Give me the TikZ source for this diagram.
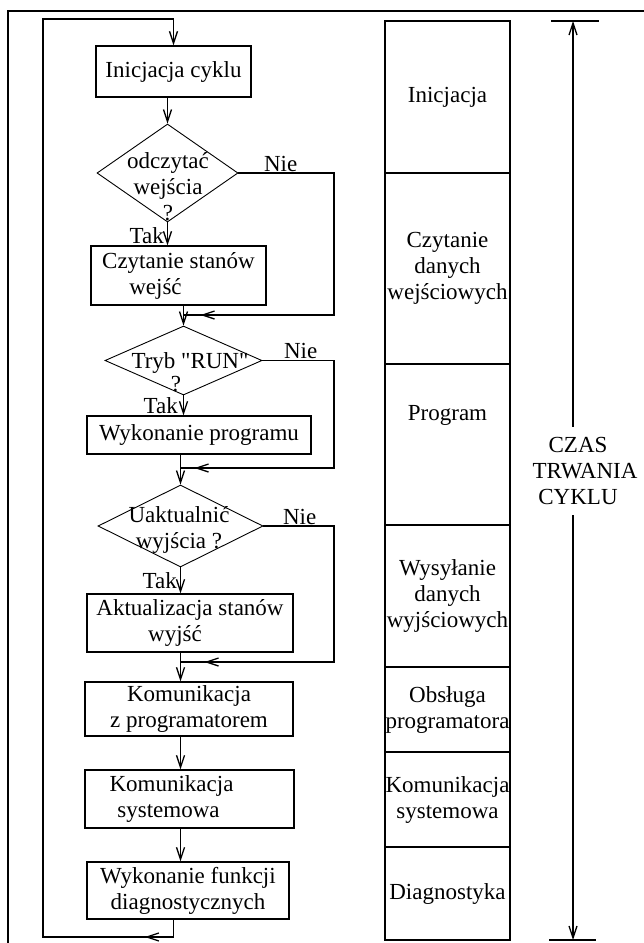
\documentclass[tikz,border=0pt]{standalone}
\usepackage{fontspec}
\setmainfont{Liberation Serif}
\usetikzlibrary{shapes.geometric,arrows.meta,positioning,decorations.markings}

\begin{document}
\begin{tikzpicture}[x=1pt,y=-1pt,line width=1.3pt,
    every node/.style={font=\fontsize{23}{26}\selectfont},
    >={Straight Barb[length=12pt,width=8pt]},
    box/.style={draw,align=center,inner sep=2pt},
    cond/.style={draw,diamond,line width=0.9pt,inner sep=0pt},
    txt/.style={align=center,inner sep=1pt},
    seg/.style={draw,minimum width=125pt,align=center,inner sep=0pt,outer sep=0pt},
    retn/.style={postaction={decorate},
      decoration={markings,mark=at position #1 with {\arrow{>}}}}
  ]
  \useasboundingbox (0,0) rectangle (644,943);

  % frame
  \draw (8,943) -- (8,11) -- (644,11);

  % flowchart of one cycle
  \node[box,minimum width=155pt,minimum height=51pt] (b1) at (173.5,71.5) {Inicjacja cyklu};
  \node[cond,minimum width=141pt,minimum height=98pt] (d1) at (167.5,173) {};
  \node[txt] (q1) at (168,187) {odczytać\\wejścia\\?};
  \node[box,minimum width=175pt,minimum height=59pt] (b2) at (178.5,275.5) {Czytanie stanów\\wejść\hspace*{46pt}};
  \node[cond,minimum width=157pt,minimum height=69pt] (d2) at (183.5,360.5) {};
  \node[txt,font=\fontsize{23}{23}\selectfont] (q2) at (190,372) {Tryb \textquotedbl RUN\textquotedbl\\?\hspace*{28pt}};
  \node[box,minimum width=224pt,minimum height=38pt] (b3) at (199,435) {Wykonanie programu};
  \node[cond,minimum width=165pt,minimum height=82pt] (d3) at (180.5,526) {};
  \node[txt] (q3) at (179,530) {Uaktualnić\\wyjścia ?};
  \node[box,minimum width=206pt,minimum height=58pt] (b4) at (190,623) {Aktualizacja stanów\\wyjść\hspace*{30pt}};
  \node[box,minimum width=208pt,minimum height=54pt] (b5) at (189,709) {Komunikacja\\z programatorem};
  \node[box,minimum width=209pt,minimum height=58pt] (b6) at (189.5,799) {Komunikacja\hspace*{36pt}\\systemowa\hspace*{42pt}};
  \node[box,minimum width=202pt,minimum height=57pt] (b7) at (188,890.5) {Wykonanie funkcji\\diagnostycznych};

  % Nie / Tak
  \node[txt,anchor=south west,xshift=24pt] (n1) at (d1.east) {Nie};
  \node[txt,anchor=south west,xshift=20pt] (n2) at (d2.east) {Nie};
  \node[txt,anchor=south west,xshift=18pt] (n3) at (d3.east) {Nie};
  \node[txt,anchor=south east,xshift=-2pt] (t1) at (d1.south |- b2.north) {Tak};
  \node[txt,anchor=south east,xshift=-4pt] (t2) at (d2.south |- b3.north) {Tak};
  \node[txt,anchor=south east,xshift=-2pt,yshift=3pt] (t3) at (d3.south |- b4.north) {Tak};

  \coordinate (rail) at (334,0);
  \coordinate (j1) at (d2.north |- 0,315);
  \coordinate (j2) at (d3.north |- 0,468);
  \coordinate (j3) at (d3.south |- 0,662);

  \draw[->] (d1.north |- b1.south) -- (d1.north);
  \draw[->] (d1.south) -- (d1.south |- b2.north);
  \draw[->] (d2.north |- b2.south) -- (d2.north);
  \draw[->] (d2.south) -- (d2.south |- b3.north);
  \draw[->] (d3.north |- b3.south) -- (d3.north);
  \draw[->] (d3.south) -- (d3.south |- b4.north);
  \draw[->] (d3.south |- b4.south) -- (d3.south |- b5.north);
  \draw[->] (d3.south |- b5.south) -- (d3.south |- b6.north);
  \draw[->] (d3.south |- b6.south) -- (d3.south |- b7.north);

  % skipped steps
  \draw[retn=-17pt] (d1.east) -- (d1.east -| rail) |- (j1);
  \draw[retn=-14pt] (d2.east) -- (d2.east -| rail) |- (j2);
  \draw[retn=-24pt] (d3.east) -- (d3.east -| rail) |- (j3);

  % back to the start
  \coordinate (loopbl) at (43,937);
  \coordinate (looptl) at (43,19);
  \draw[->,retn=46pt] (b7.south -| b1.north) |- (loopbl) -- (looptl) -| (b1.north);

  % time bar
  \node[seg,minimum height=152pt] (s1) at (447.5,97) {Inicjacja};
  \node[seg,minimum height=191pt,below=0pt of s1] (s2) {Czytanie\\danych\\wejściowych};
  \node[seg,minimum height=161pt,below=0pt of s2] (s3) {};
  \node[txt] (s3l) at ([yshift=29pt]s3.center) {Program};
  \node[seg,minimum height=142pt,below=0pt of s3] (s4) {Wysyłanie\\danych\\wyjściowych};
  \node[seg,minimum height=85pt,below=0pt of s4] (s5) {Obsługa\\programatora};
  \node[seg,minimum height=95pt,below=0pt of s5] (s6) {Komunikacja\\systemowa};
  \node[seg,minimum height=93pt,below=0pt of s6] (s7) {Diagnostyka};

  % cycle time
  \coordinate (ttop) at (573,21);
  \coordinate (tbot) at (573,940);
  \draw ([xshift=-22pt]ttop) -- ([xshift=26pt]ttop);
  \draw ([xshift=-24pt]tbot) -- ([xshift=23pt]tbot);
  \node[txt,inner ysep=10pt] (czas) at (578,471) {CZAS\\\hspace*{14pt}TRWANIA\\CYKLU};
  \draw[->] (czas.north -| ttop) -- (ttop);
  \draw[->] (czas.south -| tbot) -- (tbot);
\end{tikzpicture}
\end{document}
